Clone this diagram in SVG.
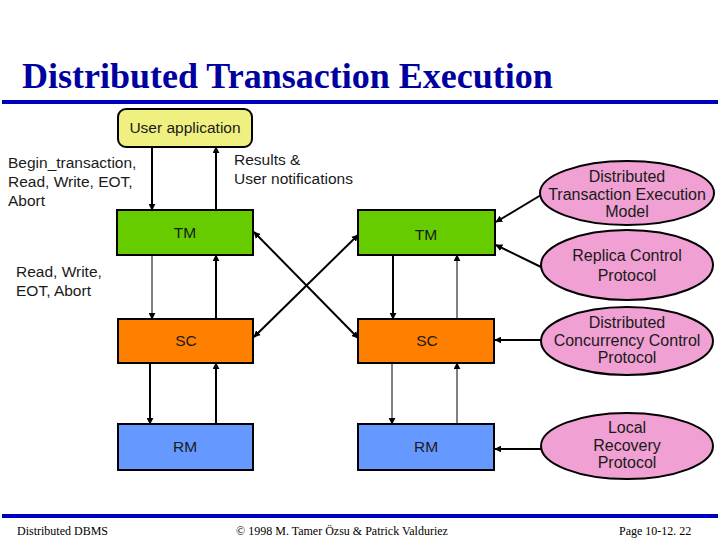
<svg xmlns="http://www.w3.org/2000/svg" width="720" height="540" viewBox="0 0 720 540">
<style>
.t{font-family:"Liberation Sans",Arial,sans-serif;font-size:15.5px;fill:#1a1a1a}
.e{font-size:16px}
.c{text-anchor:middle}
.box{stroke:#000;stroke-width:2}
.tm{fill:#66CC00}.sc{fill:#FF8000}.rm{fill:#6699FF}
.ell{fill:#F0A0D2;stroke:#000;stroke-width:2}
.thick{stroke:#000;stroke-width:2;fill:none}
.thin{stroke:#000;stroke-width:1;fill:none}
.foot{font-family:"Liberation Serif","Times New Roman",serif;font-size:12px;fill:#000}
</style>
<defs>
<marker id="ah" viewBox="0 0 10 10" refX="9" refY="5" markerUnits="userSpaceOnUse" markerWidth="7" markerHeight="7" orient="auto-start-reverse">
<path d="M0,0 L10,5 L0,10 z" fill="#000"/>
</marker>
</defs>
<rect width="720" height="540" fill="#fff"/>
<text x="22" y="88" font-family="Liberation Serif,'Times New Roman',serif" font-size="36" font-weight="bold" fill="#0000A0">Distributed Transaction Execution</text>
<rect x="2" y="100" width="716" height="4" fill="#0000C0"/>
<rect x="2" y="514" width="716" height="4" fill="#0000C0"/>
<g id="footer">
<text class="foot" x="17" y="535">Distributed DBMS</text>
<text class="foot" x="342" y="535" text-anchor="middle">© 1998 M. Tamer Özsu &amp; Patrick Valduriez</text>
<text class="foot" x="619" y="535">Page 10-12. 22</text>
</g>
<g id="connectors">
<line class="thick" x1="152" y1="147" x2="152" y2="210" marker-end="url(#ah)"/>
<line class="thick" x1="216" y1="210" x2="216" y2="147" marker-end="url(#ah)"/>
<line class="thin" x1="152" y1="255" x2="152" y2="319" marker-end="url(#ah)"/>
<line class="thick" x1="216" y1="319" x2="216" y2="255" marker-end="url(#ah)"/>
<line class="thick" x1="150" y1="363" x2="150" y2="424" marker-end="url(#ah)"/>
<line class="thick" x1="216" y1="424" x2="216" y2="363" marker-end="url(#ah)"/>
<line class="thick" x1="393" y1="255" x2="393" y2="319" marker-end="url(#ah)"/>
<line class="thin" x1="457" y1="319" x2="457" y2="255" marker-end="url(#ah)"/>
<line class="thin" x1="392" y1="363" x2="392" y2="424" marker-end="url(#ah)"/>
<line class="thin" x1="457" y1="424" x2="457" y2="363" marker-end="url(#ah)"/>
<line class="thick" x1="254" y1="337" x2="358" y2="235" marker-start="url(#ah)" marker-end="url(#ah)"/>
<line class="thick" x1="254" y1="232" x2="358" y2="338" marker-start="url(#ah)" marker-end="url(#ah)"/>
<line class="thick" x1="541" y1="195" x2="496" y2="222" marker-end="url(#ah)"/>
<line class="thick" x1="541" y1="267" x2="496" y2="245" marker-end="url(#ah)"/>
<line class="thick" x1="541" y1="340" x2="495" y2="340" marker-end="url(#ah)"/>
<line class="thick" x1="541" y1="449" x2="495" y2="449" marker-end="url(#ah)"/>
</g>
<g id="userapp">
<rect x="118" y="109" width="134" height="38" rx="8" fill="#F0F080" stroke="#000" stroke-width="2"/>
<text class="t c" x="185" y="133">User application</text>
</g>
<g id="lbl-begin">
<text class="t" x="8" y="168">Begin_transaction,</text>
<text class="t" x="8" y="187">Read, Write, EOT,</text>
<text class="t" x="8" y="206">Abort</text>
</g>
<g id="lbl-results">
<text class="t" x="234" y="165">Results &amp;</text>
<text class="t" x="234" y="184">User notifications</text>
</g>
<g id="lbl-rw">
<text class="t" x="16" y="277">Read, Write,</text>
<text class="t" x="16" y="296">EOT, Abort</text>
</g>
<g id="tm1"><rect class="box tm" x="117" y="210" width="136" height="45"/><text class="t c" x="185" y="238">TM</text></g>
<g id="tm2"><rect class="box tm" x="358" y="210" width="137" height="45"/><text class="t c" x="426" y="240">TM</text></g>
<g id="sc1"><rect class="box sc" x="118" y="319" width="135" height="44"/><text class="t c" x="186" y="346">SC</text></g>
<g id="sc2"><rect class="box sc" x="358" y="319" width="136" height="44"/><text class="t c" x="427" y="346">SC</text></g>
<g id="rm1"><rect class="box rm" x="118" y="424" width="135" height="46"/><text class="t c" x="185" y="452">RM</text></g>
<g id="rm2"><rect class="box rm" x="358" y="424" width="136" height="46"/><text class="t c" x="426" y="452">RM</text></g>
<g id="e-dtem"><ellipse class="ell" cx="627" cy="193" rx="87" ry="32"/>
<text class="t e c" x="627" y="182">Distributed</text><text class="t e c" x="627" y="200">Transaction Execution</text><text class="t e c" x="627" y="217">Model</text></g>
<g id="e-rcp"><ellipse class="ell" cx="627" cy="265" rx="86" ry="35"/>
<text class="t e c" x="627" y="261">Replica Control</text><text class="t e c" x="627" y="281">Protocol</text></g>
<g id="e-dccp"><ellipse class="ell" cx="627" cy="341" rx="86" ry="34"/>
<text class="t e c" x="627" y="328">Distributed</text><text class="t e c" x="627" y="346">Concurrency Control</text><text class="t e c" x="627" y="363">Protocol</text></g>
<g id="e-lrp"><ellipse class="ell" cx="627" cy="446" rx="86" ry="33"/>
<text class="t e c" x="627" y="433">Local</text><text class="t e c" x="627" y="451">Recovery</text><text class="t e c" x="627" y="468">Protocol</text></g>
</svg>
